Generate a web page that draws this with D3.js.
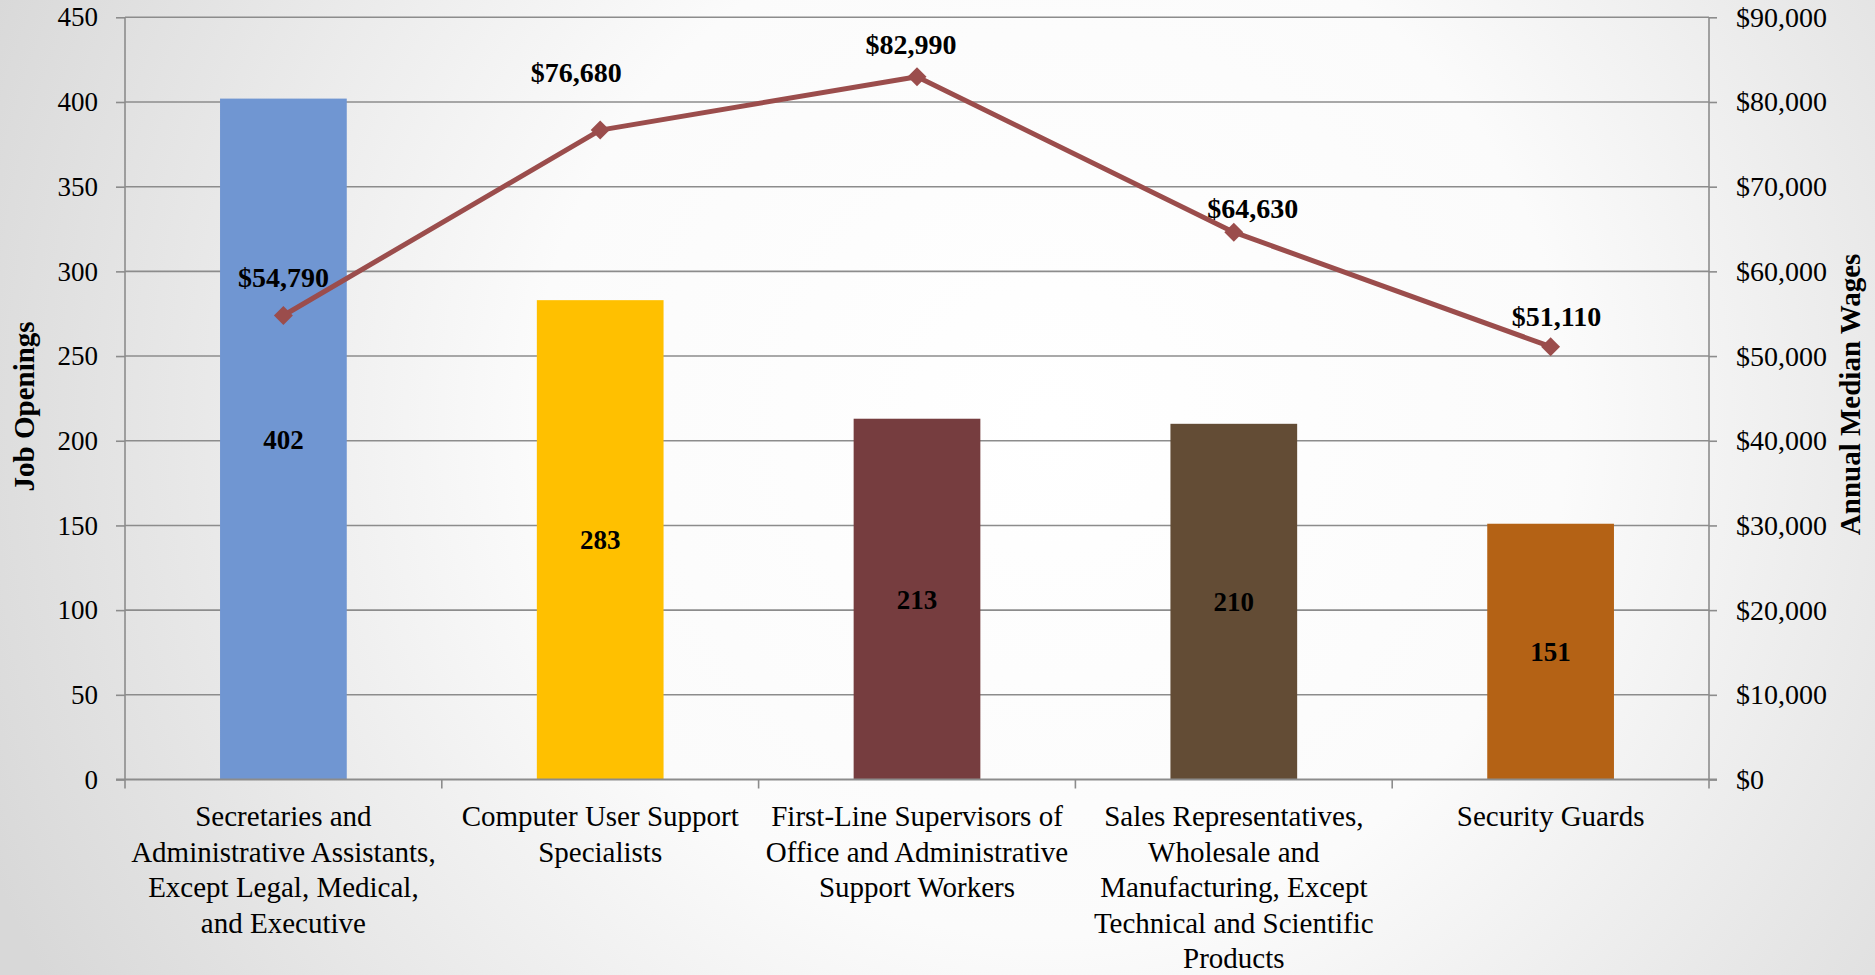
<!DOCTYPE html>
<html><head><meta charset="utf-8">
<script src="https://cdn.jsdelivr.net/npm/d3@7"></script>
<style>html,body{margin:0;padding:0;overflow:hidden;background:#fff}</style>
</head><body>
<svg id="chart" width="1875" height="975"></svg>
<script>
const categories = [
  "Secretaries and\nAdministrative Assistants,\nExcept Legal, Medical,\nand Executive",
  "Computer User Support\nSpecialists",
  "First-Line Supervisors of\nOffice and Administrative\nSupport Workers",
  "Sales Representatives,\nWholesale and\nManufacturing, Except\nTechnical and Scientific\nProducts",
  "Security Guards"
];
const jobOpenings = [402, 283, 213, 210, 151];
const medianWages = [54790, 76680, 82990, 64630, 51110];
const barColors = ["#7096D2", "#FFC000", "#763D3F", "#634C35", "#B46215"];
const leftTicks = [0, 50, 100, 150, 200, 250, 300, 350, 400, 450];
const rightTicks = [0, 10000, 20000, 30000, 40000, 50000, 60000, 70000, 80000, 90000];
const wageLabelNudge = [[0, -28], [-24, -48], [-6, -23], [19, -14], [6, -21]];

const W = 1875, H = 975;
const m = {left: 125, right: 1709, top: 17.3, bottom: 779.5};
const FONT = "'Palatino Linotype','Book Antiqua',Palatino,'Liberation Serif',serif";
const svg = d3.select("#chart").style("font-family", FONT);

// background radial gradient
const defs = svg.append("defs");
const rg = defs.append("radialGradient").attr("id", "bg")
  .attr("gradientUnits", "userSpaceOnUse")
  .attr("cx", 1050).attr("cy", 420).attr("r", 1150);
rg.append("stop").attr("offset", "0").attr("stop-color", "#ffffff");
rg.append("stop").attr("offset", "0.45").attr("stop-color", "#fbfbfb");
rg.append("stop").attr("offset", "1").attr("stop-color", "#d8d8d8");
svg.append("rect").attr("width", W).attr("height", H).attr("fill", "url(#bg)");

const x = d3.scaleBand().domain(d3.range(categories.length)).range([m.left, m.right]).padding(0);
const yL = d3.scaleLinear().domain([0, 450]).range([m.bottom, m.top]);
const yR = d3.scaleLinear().domain([0, 90000]).range([m.bottom, m.top]);
const barW = x.bandwidth() * 0.4;

// gridlines
svg.append("g").selectAll("line").data(leftTicks.filter(d => d > 0)).join("line")
  .attr("x1", m.left).attr("x2", m.right)
  .attr("y1", d => yL(d)).attr("y2", d => yL(d))
  .attr("stroke", "#8c8c8c").attr("stroke-width", 1.6);

// bars
svg.append("g").selectAll("rect").data(jobOpenings).join("rect")
  .attr("x", (d, i) => x(i) + (x.bandwidth() - barW) / 2)
  .attr("width", barW)
  .attr("y", d => yL(d))
  .attr("height", d => yL(0) - yL(d))
  .attr("fill", (d, i) => barColors[i]);

// bar value labels
svg.append("g").selectAll("text").data(jobOpenings).join("text")
  .attr("x", (d, i) => x(i) + x.bandwidth() / 2)
  .attr("y", d => (yL(d) + yL(0)) / 2)
  .attr("dy", "0.35em")
  .attr("text-anchor", "middle")
  .attr("font-weight", "bold").attr("font-size", 27).attr("fill", "#000")
  .text(d => d);

// left axis
const axL = svg.append("g").attr("transform", `translate(${m.left},0)`)
  .call(d3.axisLeft(yL).tickValues(leftTicks).tickSize(9).tickPadding(18).tickFormat(d3.format("d")));
axL.select(".domain").attr("stroke", "#8c8c8c").attr("stroke-width", 1.6).attr("d", `M0,${m.top}V${m.bottom}`);
axL.selectAll(".tick line").attr("stroke", "#8c8c8c").attr("stroke-width", 1.6);
axL.selectAll(".tick text").attr("font-size", 27).attr("font-family", FONT).attr("fill", "#000");

// right axis
const axR = svg.append("g").attr("transform", `translate(${m.right},0)`)
  .call(d3.axisRight(yR).tickValues(rightTicks).tickSize(8).tickPadding(19)
    .tickFormat(d => "$" + d3.format(",")(d)));
axR.select(".domain").attr("stroke", "#8c8c8c").attr("stroke-width", 1.6).attr("d", `M0,${m.top}V${m.bottom}`);
axR.selectAll(".tick line").attr("stroke", "#8c8c8c").attr("stroke-width", 1.6);
axR.selectAll(".tick text").attr("font-size", 28).attr("font-family", FONT).attr("fill", "#000");

// bottom axis
const axB = svg.append("g").attr("transform", `translate(0,${m.bottom})`)
  .call(d3.axisBottom(x).tickSize(0).tickFormat(""));
axB.select(".domain").attr("stroke", "#8c8c8c").attr("stroke-width", 2).attr("d", `M${m.left - 9},0H${m.right + 8}`);
axB.selectAll(".tick").remove();
const bounds = d3.range(categories.length + 1).map(i => i === categories.length ? m.right : x(i));
svg.append("g").selectAll("line").data(bounds).join("line")
  .attr("x1", d => d).attr("x2", d => d)
  .attr("y1", m.bottom).attr("y2", m.bottom + 9)
  .attr("stroke", "#8c8c8c").attr("stroke-width", 1.6);

// category labels
const catG = svg.append("g").selectAll("text").data(categories).join("text")
  .attr("text-anchor", "middle").attr("font-size", 29).attr("fill", "#000");
catG.each(function(d, i) {
  const t = d3.select(this);
  d.split("\n").forEach((ln, k) => {
    t.append("tspan").attr("x", x(i) + x.bandwidth() / 2)
      .attr("y", m.bottom + 46.5 + k * 35.5).text(ln);
  });
});

// line
const lineColor = "#9B4D4C";
const line = d3.line().x((d, i) => x(i) + x.bandwidth() / 2).y(d => yR(d));
svg.append("path").datum(medianWages).attr("d", line)
  .attr("fill", "none").attr("stroke", lineColor).attr("stroke-width", 5)
  .attr("stroke-linejoin", "round");
svg.append("g").selectAll("path").data(medianWages).join("path")
  .attr("d", d3.symbol().type(d3.symbolSquare).size(180))
  .attr("transform", (d, i) => `translate(${x(i) + x.bandwidth() / 2},${yR(d)}) rotate(45)`)
  .attr("fill", lineColor);

// line labels
svg.append("g").selectAll("text").data(medianWages).join("text")
  .attr("x", (d, i) => x(i) + x.bandwidth() / 2 + wageLabelNudge[i][0])
  .attr("y", (d, i) => yR(d) + wageLabelNudge[i][1])
  .attr("text-anchor", "middle")
  .attr("font-weight", "bold").attr("font-size", 28).attr("fill", "#000")
  .text(d => "$" + d3.format(",")(d));

// axis titles
svg.append("text").attr("transform", `translate(34,${(m.top + m.bottom) / 2 + 8}) rotate(-90)`)
  .attr("text-anchor", "middle").attr("font-weight", "bold").attr("font-size", 29).text("Job Openings");
svg.append("text").attr("transform", `translate(1860,${(m.top + m.bottom) / 2 - 4}) rotate(-90)`)
  .attr("text-anchor", "middle").attr("font-weight", "bold").attr("font-size", 29).text("Annual Median Wages");
</script>
</body></html>
